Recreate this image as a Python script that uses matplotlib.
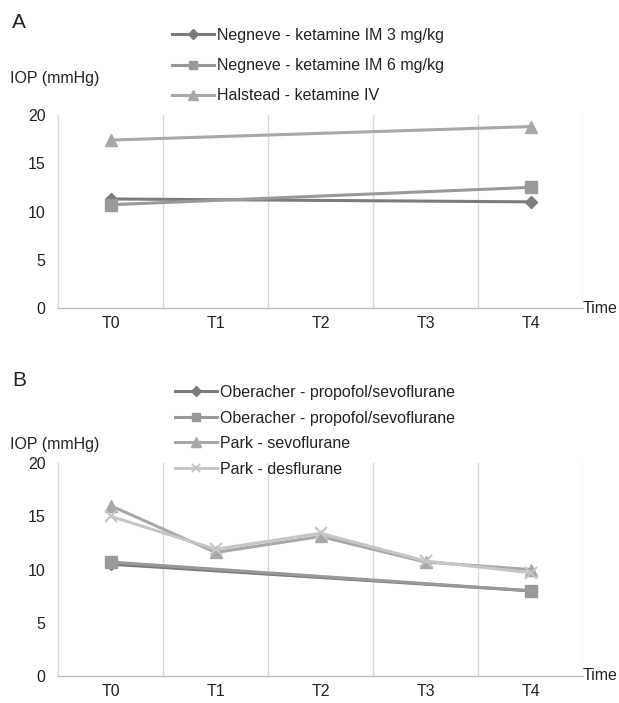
import matplotlib
matplotlib.use("Agg")
import matplotlib.pyplot as plt

plt.rcParams['font.family'] = ['Liberation Sans', 'DejaVu Sans']

time_labels = ["T0", "T1", "T2", "T3", "T4"]
yticks = [0, 5, 10, 15, 20]

# Panel A
a_names = ["Negneve - ketamine IM 3 mg/kg", "Negneve - ketamine IM 6 mg/kg", "Halstead - ketamine IV"]
a_x = [0, 4]
a_neg3 = [11.3, 11.0]
a_neg6 = [10.7, 12.5]
a_hal = [17.4, 18.8]

# Panel B
b_names = ["Oberacher - propofol/sevoflurane", "Oberacher - propofol/sevoflurane",
           "Park - sevoflurane", "Park - desflurane"]
b_ober_x = [0, 4]
b_ober1 = [10.5, 8.0]
b_ober2 = [10.7, 8.0]
b_park_x = [0, 1, 2, 3, 4]
b_park_sevo = [16.0, 11.6, 13.1, 10.7, 10.0]
b_park_des = [15.0, 11.9, 13.4, 10.8, 9.7]

c_dia = "#7c7c7c"
c_sq = "#999999"
c_tri = "#a8a8a8"
c_x = "#c6c6c6"

W, H = 619, 703
fig = plt.figure(figsize=(W / 100, H / 100), dpi=100)


def make_axes(left, top, right, bottom):
    return fig.add_axes([left / W, 1 - bottom / H, (right - left) / W, (bottom - top) / H])


def style(ax):
    ax.set_xlim(-0.5, 4.5)
    ax.set_ylim(0, 20)
    ax.set_yticks(yticks)
    ax.set_xticks(range(5))
    ax.set_xticklabels(time_labels)
    for b in [0.5, 1.5, 2.5, 3.5, 4.5]:
        ax.axvline(b, color="#d9d9d9", lw=1.0, zorder=0)
    for s in ["top", "right"]:
        ax.spines[s].set_visible(False)
    ax.spines["left"].set_color("#d9d9d9")
    ax.spines["bottom"].set_color("#bfbfbf")
    ax.spines["left"].set_linewidth(1.0)
    ax.spines["bottom"].set_linewidth(1.0)
    ax.tick_params(axis="both", length=0, labelsize=11.5, colors="#222222")
    ax.tick_params(axis="x", pad=6)
    ax.tick_params(axis="y", pad=9)
    ax.text(1.0, 0.0, "Time", transform=ax.transAxes, fontsize=11.5, color="#222222",
            ha="left", va="center")


lw = 2.2

# Panel A
axA = make_axes(58, 115, 583, 308)
style(axA)
lA1, = axA.plot(a_x, a_neg3, color=c_dia, lw=lw, marker="D", ms=6.5, zorder=3)
lA2, = axA.plot(a_x, a_neg6, color=c_sq, lw=lw, marker="s", ms=8.5, zorder=3)
lA3, = axA.plot(a_x, a_hal, color=c_tri, lw=lw, marker="^", ms=9, zorder=3)
fig.text(12 / W, 1 - 22 / H, "A", fontsize=15, va="center", ha="left", color="#222222")
fig.text(10 / W, 1 - 78 / H, "IOP (mmHg)", fontsize=11.5, va="center", ha="left", color="#222222")
legA = fig.legend([lA1, lA2, lA3], a_names, loc="upper left", bbox_to_anchor=(172 / W, 1 - 28 / H),
                  frameon=False, fontsize=11.5, handlelength=2.6, handletextpad=0.2,
                  labelspacing=0.95, borderaxespad=0, borderpad=0)
for t in legA.get_texts():
    t.set_color("#222222")
for h in legA.legend_handles:
    h.set_markersize(h.get_markersize() * 0.75)

# Panel B
axB = make_axes(58, 463, 583, 676)
style(axB)
lB1, = axB.plot(b_ober_x, b_ober1, color=c_dia, lw=lw, marker="D", ms=6.5, zorder=3)
lB2, = axB.plot(b_ober_x, b_ober2, color=c_sq, lw=lw, marker="s", ms=8.5, zorder=3)
lB3, = axB.plot(b_park_x, b_park_sevo, color=c_tri, lw=lw, marker="^", ms=9, zorder=3)
lB4, = axB.plot(b_park_x, b_park_des, color=c_x, lw=lw, marker="x", ms=8, mew=1.5, zorder=4)
fig.text(12 / W, 1 - 380 / H, "B", fontsize=15, va="center", ha="left", color="#222222")
fig.text(10 / W, 1 - 444 / H, "IOP (mmHg)", fontsize=11.5, va="center", ha="left", color="#222222")
legB = fig.legend([lB1, lB2, lB3, lB4], b_names, loc="upper left", bbox_to_anchor=(175 / W, 1 - 385 / H),
                  frameon=False, fontsize=11.5, handlelength=2.6, handletextpad=0.2,
                  labelspacing=0.66, borderaxespad=0, borderpad=0)
for t in legB.get_texts():
    t.set_color("#222222")
for h in legB.legend_handles:
    h.set_markersize(h.get_markersize() * 0.75)

fig.savefig("out.png", dpi=100, facecolor="white")
